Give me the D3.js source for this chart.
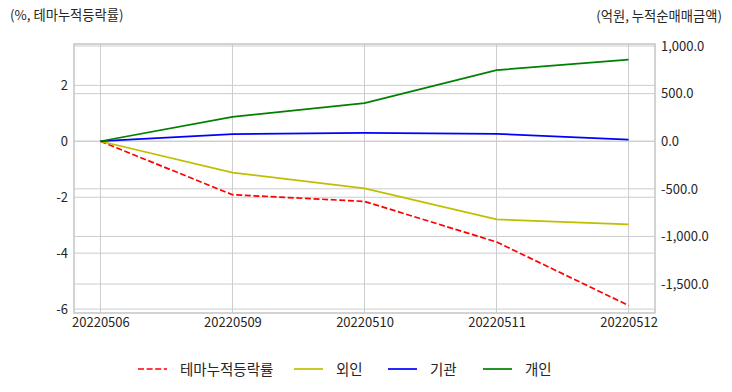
<!DOCTYPE html>
<html>
<head>
<meta charset="utf-8">
<script src="https://cdn.jsdelivr.net/npm/d3@7"></script>
<style>
  body { margin: 0; background: #fff; }
  text { font-family: "Noto Sans CJK KR", "Noto Sans", sans-serif; fill: #262626; }
</style>
</head>
<body>
<svg id="chart" width="732" height="392"></svg>
<script>
// dates on x axis
var dates = ['20220506', '20220509', '20220510', '20220511', '20220512'];
// theme cumulative change (%), left axis
var themeRate = [0, -1.91, -2.15, -3.60, -5.87];
// cumulative net buying (억원), right axis
var foreign = [0, -330, -495, -821, -874];
var institution = [0, 74, 87, 77, 17];
var individual = [0, 256, 400, 747, 856];

var leftTicks = [2, 0, -2, -4, -6];
var rightTicks = [1000, 500, 0, -500, -1000, -1500];

var svg = d3.select('#chart');
var pL = 74, pR = 655, pT = 44, pB = 313;

// matplotlib-like 5% margins: 4 steps + 0.2 each side
var x = d3.scaleLinear().domain([-0.2, 4.2]).range([pL, pR]);
var yL = d3.scaleLinear().domain([-6.14, 3.48]).range([pB, pT]);
var yR = d3.scaleLinear().domain([-1804, 1021]).range([pB, pT]);

var grid = svg.append('g').attr('stroke', '#cccccc').attr('stroke-width', 1);
grid.selectAll('line.v').data(dates).enter().append('line')
  .attr('x1', function(d, i) { return x(i); }).attr('x2', function(d, i) { return x(i); })
  .attr('y1', pT).attr('y2', pB);
grid.selectAll('line.hl').data(leftTicks).enter().append('line')
  .attr('x1', pL).attr('x2', pR)
  .attr('y1', function(d) { return yL(d); }).attr('y2', function(d) { return yL(d); });
grid.selectAll('line.hr').data(rightTicks).enter().append('line')
  .attr('x1', pL).attr('x2', pR)
  .attr('y1', function(d) { return yR(d); }).attr('y2', function(d) { return yR(d); });

svg.append('rect').attr('x', pL).attr('y', pT)
  .attr('width', pR - pL).attr('height', pB - pT)
  .attr('fill', 'none').attr('stroke', '#c8c8c8').attr('stroke-width', 1.6);

// axes (labels only, whitegrid style)
var axL = svg.append('g').attr('transform', 'translate(' + pL + ',0)')
  .call(d3.axisLeft(yL).tickValues(leftTicks).tickSize(0).tickPadding(6).tickFormat(d3.format('d')));
var axR = svg.append('g').attr('transform', 'translate(' + pR + ',0)')
  .call(d3.axisRight(yR).tickValues(rightTicks).tickSize(0).tickPadding(6).tickFormat(d3.format(',.1f')));
var axB = svg.append('g').attr('transform', 'translate(0,' + pB + ')')
  .call(d3.axisBottom(x).tickValues([0, 1, 2, 3, 4]).tickSize(0).tickPadding(5)
    .tickFormat(function(i) { return dates[i]; }));
[axL, axR, axB].forEach(function(a) {
  a.select('.domain').remove();
  a.selectAll('text').attr('font-size', 13).attr('fill', '#262626')
    .style('font-family', '"Noto Sans CJK KR", sans-serif');
});
axL.selectAll('text').text(function(d) { return d < 0 ? '-' + Math.abs(d) : d; });
axR.selectAll('text').text(function(d) { return d3.format(',.1f')(d).replace('−', '-'); });

var lineL = d3.line().x(function(d, i) { return x(i); }).y(function(d) { return yL(d); });
var lineR = d3.line().x(function(d, i) { return x(i); }).y(function(d) { return yR(d); });

var series = [
  { name: '외인', values: foreign, color: '#bfbf00' },
  { name: '기관', values: institution, color: '#0000ff' },
  { name: '개인', values: individual, color: '#008000' }
];
svg.append('path').datum(themeRate).attr('d', lineL)
  .attr('fill', 'none').attr('stroke', '#ff0000').attr('stroke-width', 1.7)
  .attr('stroke-dasharray', '6,2.6');
series.forEach(function(s) {
  svg.append('path').datum(s.values).attr('d', lineR)
    .attr('fill', 'none').attr('stroke', s.color).attr('stroke-width', 1.7);
});

svg.append('text').attr('x', 10).attr('y', 20).attr('font-size', 13.3).text('(%, 테마누적등락률)');
svg.append('text').attr('x', 722).attr('y', 21).attr('font-size', 13.3)
  .attr('text-anchor', 'end').text('(억원, 누적순매매금액)');

// legend
var legendItems = [
  { name: '테마누적등락률', color: '#ff0000', dash: '6,2.6', x: 138 },
  { name: '외인', color: '#bfbf00', dash: null, x: 294 },
  { name: '기관', color: '#0000ff', dash: null, x: 388 },
  { name: '개인', color: '#008000', dash: null, x: 483 }
];
var lg = svg.append('g');
legendItems.forEach(function(d) {
  lg.append('line').attr('x1', d.x).attr('x2', d.x + 29).attr('y1', 369).attr('y2', 369)
    .attr('stroke', d.color).attr('stroke-width', 1.7).attr('stroke-dasharray', d.dash);
  lg.append('text').attr('x', d.x + 42).attr('y', 374.5).attr('font-size', 14.5).text(d.name);
});
</script>
</body>
</html>
